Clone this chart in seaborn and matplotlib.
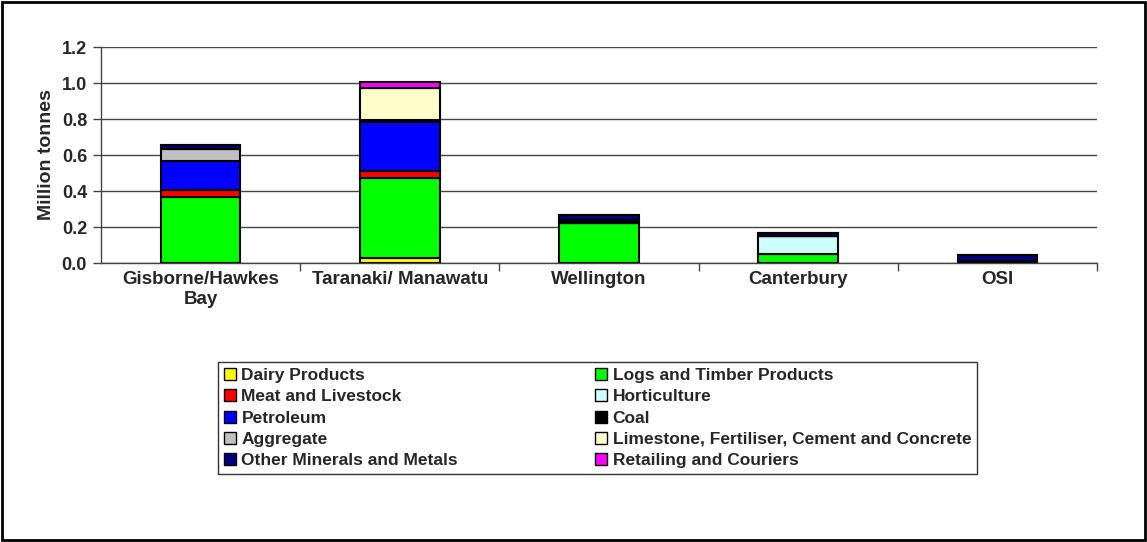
import numpy as np
import pandas as pd
import matplotlib
matplotlib.use('Agg')
import matplotlib.pyplot as plt
import seaborn as sns
from matplotlib.patches import Patch, Rectangle
from matplotlib.ticker import MultipleLocator, FixedLocator, FormatStrFormatter

# 数据（百万吨）
regions = ['Gisborne/Hawkes\nBay', 'Taranaki/ Manawatu', 'Wellington', 'Canterbury', 'OSI']
commodities = ['Dairy Products', 'Logs and Timber Products', 'Meat and Livestock',
               'Horticulture', 'Petroleum', 'Coal', 'Aggregate',
               'Limestone, Fertiliser, Cement and Concrete',
               'Other Minerals and Metals', 'Retailing and Couriers']
dairy = [0.0, 0.026, 0.0, 0.0, 0.0]
logs = [0.367, 0.448, 0.222, 0.05, 0.01]
meat = [0.038, 0.037, 0.0, 0.0, 0.0]
horticulture = [0.0, 0.0, 0.0, 0.098, 0.0]
petroleum = [0.162, 0.275, 0.0, 0.0, 0.0]
coal = [0.0, 0.006, 0.018, 0.0, 0.0]
aggregate = [0.066, 0.0, 0.0, 0.0, 0.0]
limestone = [0.0, 0.182, 0.0, 0.0, 0.0]
other_minerals = [0.024, 0.0, 0.027, 0.017, 0.037]
retailing = [0.0, 0.032, 0.0, 0.0, 0.0]
colors = ['#FFFF00', '#00FF00', '#FF0000', '#CCFFFF', '#0000FF', '#000000',
          '#C0C0C0', '#FFFFCC', '#000080', '#FF00FF']

series = [dairy, logs, meat, horticulture, petroleum, coal, aggregate,
          limestone, other_minerals, retailing]

sns.set_style('white')
plt.rcParams['font.family'] = ['Liberation Sans', 'DejaVu Sans']
plt.rcParams['font.weight'] = 'bold'

fig = plt.figure(figsize=(11.47, 5.42), dpi=100)
ax = fig.add_axes([101 / 1147, 1 - 263 / 542, 996 / 1147, 216 / 542])

bottom = np.zeros(len(regions))
for name, vals, col in zip(commodities, series, colors):
    df = pd.DataFrame({'region': regions, 'value': vals})
    sns.barplot(data=df, x='region', y='value', ax=ax, color=col, bottom=bottom,
                width=0.4, edgecolor='black', linewidth=1.5, saturation=1)
    bottom = bottom + np.array(vals)

ax.set_xlim(-0.5, 4.5)
ax.set_ylim(0, 1.2)
ax.yaxis.set_major_locator(MultipleLocator(0.2))
ax.yaxis.set_major_formatter(FormatStrFormatter('%.1f'))
ax.grid(axis='y', color='#444444', linewidth=1)
ax.set_axisbelow(True)
for s in ['top', 'right']:
    ax.spines[s].set_visible(False)
for s in ['left', 'bottom']:
    ax.spines[s].set_color('#444444')
    ax.spines[s].set_linewidth(1)

ax.tick_params(axis='y', direction='out', length=6, width=1, color='#444444',
               labelsize=13, left=True, pad=4)
ax.tick_params(axis='x', which='major', length=0, labelsize=13.5, pad=6)
ax.xaxis.set_minor_locator(FixedLocator([0.5, 1.5, 2.5, 3.5, 4.5]))
ax.tick_params(axis='x', which='minor', direction='out', length=6, width=1,
               color='#444444', bottom=True)
for lbl in ax.get_xticklabels() + ax.get_yticklabels():
    lbl.set_fontweight('bold')
ax.set_xlabel('')
ax.set_ylabel('Million tonnes', fontsize=14, fontweight='bold', labelpad=5)

# 图例：按行排列
handles = [Patch(facecolor=c, edgecolor='black', linewidth=1, label=n)
           for n, c in zip(commodities, colors)]
order = [0, 2, 4, 6, 8, 1, 3, 5, 7, 9]
leg = fig.legend([handles[i] for i in order], [commodities[i] for i in order],
                 ncol=2, loc='upper left',
                 bbox_to_anchor=(218 / 1147, 1 - 362 / 542), borderaxespad=0,
                 frameon=True, fancybox=False, edgecolor='black',
                 prop={'weight': 'bold', 'size': 12.5},
                 handlelength=0.7, handleheight=0.7, handletextpad=0.3,
                 columnspacing=7.9, labelspacing=0.35, borderpad=0.35)
leg.get_frame().set_linewidth(1)

fig.patches.append(Rectangle((0.002, 0.004), 0.996, 0.993, transform=fig.transFigure,
                             fill=False, edgecolor='black', linewidth=2))

fig.savefig('out.png', dpi=100)
